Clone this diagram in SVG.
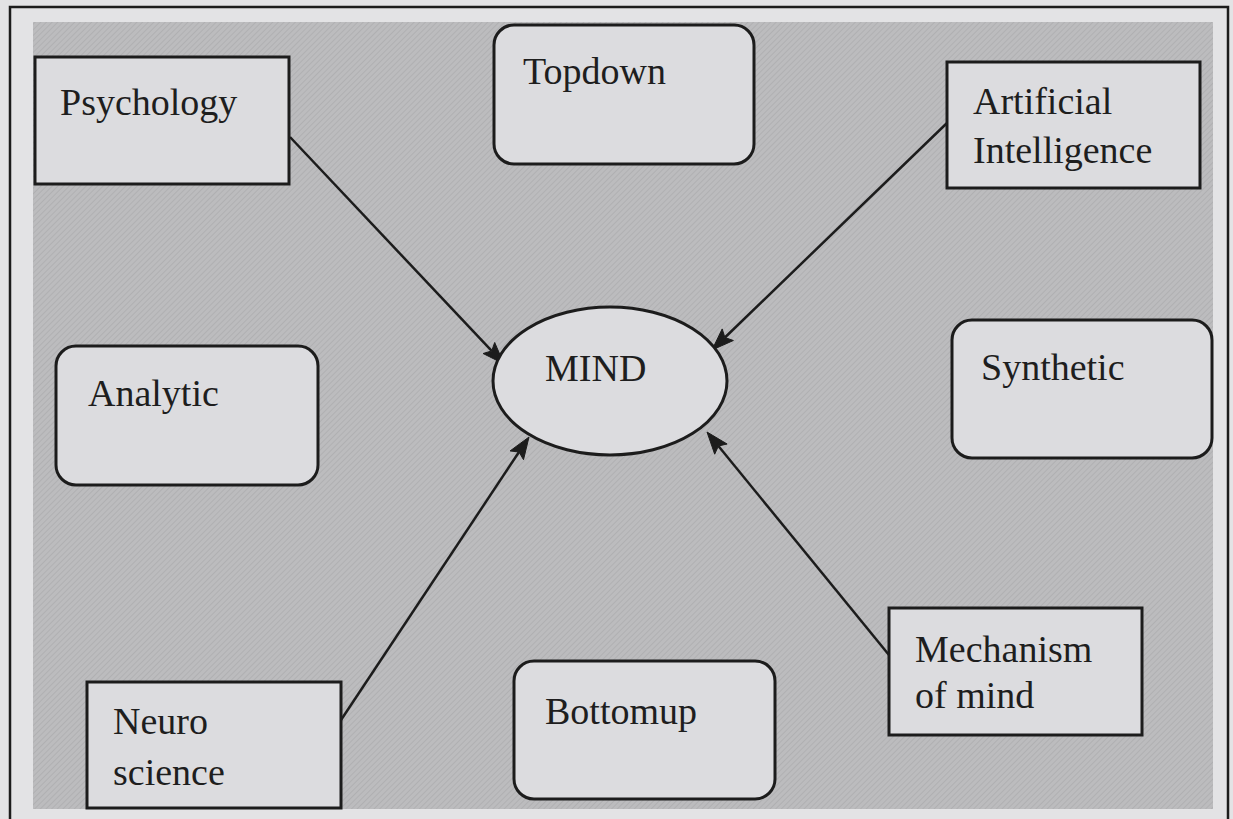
<svg xmlns="http://www.w3.org/2000/svg" width="1233" height="819" viewBox="0 0 1233 819">
  <style>
    .box { fill: #dcdcdf; stroke: #1c1c1c; stroke-width: 3; }
    .lbl { font-family: "Liberation Serif", "DejaVu Serif", serif; font-size: 38px; fill: #1e1e1e; }
    .conn { stroke: #1c1c1c; stroke-width: 2.5; fill: none; }
    .head { fill: #1c1c1c; stroke: #1c1c1c; stroke-width: 1; stroke-linejoin: miter; }
  </style>
  <defs>
    <pattern id="hatch" width="4" height="4" patternUnits="userSpaceOnUse" patternTransform="rotate(45)">
      <rect width="4" height="4" fill="#bcbcbe"/>
      <line x1="0" y1="0" x2="0" y2="4" stroke="#acacae" stroke-width="1.5"/>
    </pattern>
  </defs>

  <!-- page and frame -->
  <rect x="0" y="0" width="1233" height="819" fill="#e3e3e5"/>
  <rect x="10" y="7" width="1218" height="830" fill="none" stroke="#1c1c1c" stroke-width="2.5"/>
  <rect x="33" y="22" width="1180" height="787" fill="url(#hatch)"/>

  <!-- connectors: straight shafts with filled arrowheads pointing at MIND -->
  <g id="connectors">
    <line class="conn" x1="290" y1="137" x2="491.7" y2="350.9"/>
    <polygon class="head" points="504,364 483.1,353.5 491.7,350.9 494.7,342.5"/>

    <line class="conn" x1="947" y1="123" x2="724.9" y2="337.5"/>
    <polygon class="head" points="712,350 722.2,328.9 724.9,337.5 733.4,340.5"/>

    <line class="conn" x1="341" y1="720" x2="519" y2="452"/>
    <polygon class="head" points="529,437 523.5,459.7 519,452 510.1,450.9"/>

    <line class="conn" x1="889" y1="655" x2="718.4" y2="446"/>
    <polygon class="head" points="707,432 727.1,444 718.4,446 714.7,454.2"/>
  </g>

  <g id="psychology">
    <rect class="box" x="35" y="57" width="254" height="127"/>
    <text class="lbl" x="60" y="115">Psychology</text>
  </g>

  <g id="topdown">
    <rect class="box" x="494" y="25" width="260" height="139" rx="20"/>
    <text class="lbl" x="523" y="84">Topdown</text>
  </g>

  <g id="artificial-intelligence">
    <rect class="box" x="947" y="62" width="253" height="126"/>
    <text class="lbl" x="973" y="114">Artificial</text>
    <text class="lbl" x="973" y="163">Intelligence</text>
  </g>

  <g id="analytic">
    <rect class="box" x="56" y="346" width="262" height="139" rx="20"/>
    <text class="lbl" x="88" y="406">Analytic</text>
  </g>

  <g id="mind">
    <ellipse class="box" cx="610" cy="381" rx="117" ry="74"/>
    <text class="lbl" x="545" y="381">MIND</text>
  </g>

  <g id="synthetic">
    <rect class="box" x="952" y="320" width="260" height="138" rx="20"/>
    <text class="lbl" x="981" y="380">Synthetic</text>
  </g>

  <g id="neuro-science">
    <rect class="box" x="87" y="682" width="254" height="126"/>
    <text class="lbl" x="113" y="734">Neuro</text>
    <text class="lbl" x="113" y="785">science</text>
  </g>

  <g id="bottomup">
    <rect class="box" x="514" y="661" width="261" height="138" rx="20"/>
    <text class="lbl" x="545" y="724">Bottomup</text>
  </g>

  <g id="mechanism-of-mind">
    <rect class="box" x="889" y="608" width="253" height="127"/>
    <text class="lbl" x="915" y="662">Mechanism</text>
    <text class="lbl" x="915" y="708">of mind</text>
  </g>
</svg>
